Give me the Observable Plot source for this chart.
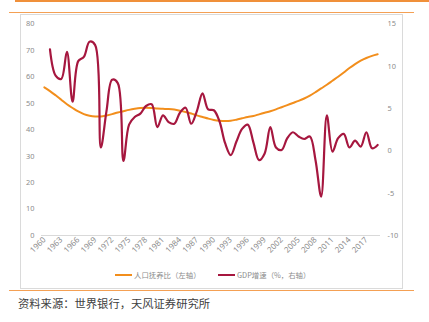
<!DOCTYPE html>
<html><head><meta charset="utf-8">
<script src="https://cdn.jsdelivr.net/npm/d3@7"></script>
<script src="https://cdn.jsdelivr.net/npm/@observablehq/plot@0.6"></script>
<style>
html,body{margin:0;padding:0;background:#fff;}
#wrap{position:relative;width:429px;height:322px;overflow:hidden;font-family:"Noto Sans","Noto Sans CJK SC",sans-serif;}
.topbar{position:absolute;left:15px;top:0;width:414px;height:2.3px;background:#f0903a;}
.hl{position:absolute;left:9px;width:405px;height:1.3px;background:#f4a054;}
.box{position:absolute;left:20px;top:14px;width:381px;height:273px;border:1px solid #dadada;}
#chart{position:absolute;left:0;top:0;}
.sw{position:absolute;height:2.6px;width:17px;}
.lt{position:absolute;font-size:7.4px;line-height:10px;color:#8c8c8c;font-family:"Noto Sans CJK SC",sans-serif;white-space:nowrap;}
#caption{position:absolute;left:18px;top:295px;font-size:11.3px;line-height:16px;color:#404040;font-family:"Noto Sans CJK SC",sans-serif;white-space:nowrap;}
</style></head><body>
<div id="wrap">
  <div class="topbar"></div>
  <div class="hl" style="top:11.7px"></div>
  <div class="box"></div>
  <div id="chart"></div>
  <div class="sw" style="left:115px;top:273.7px;background:#F28E1C"></div>
  <div class="lt" style="left:134px;top:270px">人口抚养比（左轴）</div>
  <div class="sw" style="left:218px;top:273.7px;background:#A6173F"></div>
  <div class="lt" style="left:237px;top:270px">GDP增速（%，右轴）</div>
  <div class="hl" style="top:289.5px"></div>
  <div id="caption">资料来源：世界银行，天风证券研究所</div>
</div>
<script>
const years = [1960,1961,1962,1963,1964,1965,1966,1967,1968,1969,
  1970,1971,1972,1973,1974,1975,1976,1977,1978,1979,
  1980,1981,1982,1983,1984,1985,1986,1987,1988,1989,
  1990,1991,1992,1993,1994,1995,1996,1997,1998,1999,
  2000,2001,2002,2003,2004,2005,2006,2007,2008,2009,
  2010,2011,2012,2013,2014,2015,2016,2017,2018,2019];
// 人口抚养比（左轴）
const dependencyRatio = [56.0,54.6,53.0,51.3,49.6,48.2,46.9,45.9,45.3,45.0,
  45.0,45.4,45.9,46.5,47.0,47.5,47.9,48.2,48.3,48.2,
  48.0,47.9,47.8,47.6,47.2,46.7,46.1,45.4,44.8,44.2,
  43.7,43.4,43.3,43.4,43.8,44.3,44.8,45.2,45.8,46.4,
  47.0,47.7,48.5,49.3,50.1,50.9,51.8,52.9,54.2,55.6,
  57.0,58.5,60.0,61.6,63.3,64.8,66.1,67.1,67.9,68.5];
// GDP增速（%，右轴）
const gdpGrowth = [null,12.0,8.9,8.5,11.7,5.8,10.6,11.1,12.9,12.5,
  0.4,4.7,8.4,8.0,-1.2,3.1,4.0,4.4,5.3,5.5,
  2.8,4.2,3.4,3.2,4.5,5.1,3.2,4.7,6.8,4.9,
  4.8,3.5,0.9,-0.5,1.1,2.6,3.1,1.0,-1.1,-0.3,
  2.8,0.4,0.1,1.5,2.2,1.7,1.4,1.7,-1.1,-5.4,
  4.2,-0.1,1.5,2.0,0.4,1.2,0.5,2.2,0.3,0.7];
const xTicks = [1960,1963,1966,1969,1972,1975,1978,1981,1984,1987,1990,1993,1996,1999,2002,2005,2008,2011,2014,2017];
const leftTicks = [0,10,20,30,40,50,60,70,80];
const rightTicks = [-10,-5,0,5,10,15];

const leftDomain = [0, 80], rightDomain = [-10, 15];
const toLeft = v => leftDomain[0] + (v - rightDomain[0]) * (leftDomain[1] - leftDomain[0]) / (rightDomain[1] - rightDomain[0]);
const toRight = v => rightDomain[0] + (v - leftDomain[0]) * (rightDomain[1] - rightDomain[0]) / (leftDomain[1] - leftDomain[0]);

const rows = years.map((y, i) => ({year: y, dep: dependencyRatio[i], gdp: gdpGrowth[i]}));
const gdpRows = rows.filter(d => d.gdp != null);

const chart = Plot.plot({
  width: 429, height: 270,
  marginLeft: 41, marginRight: 49, marginTop: 23.4, marginBottom: 35,
  style: {fontFamily: "'Noto Sans', sans-serif", fontSize: "7.4px", color: "#8c8c8c", background: "transparent", overflow: "visible"},
  x: {type: "linear", domain: [years[0] - 0.5, years[years.length - 1] + 0.5]},
  y: {domain: leftDomain},
  marks: [
    Plot.ruleY([0], {stroke: "#d9d9d9", strokeWidth: 1}),
    Plot.axisX(xTicks, {tickRotate: -45, tickSize: 0, tickPadding: 3, tickFormat: d => String(d), label: null, fill: "#8c8c8c", fontSize: 8}),
    Plot.axisY(leftTicks, {anchor: "left", tickSize: 0, tickPadding: 7, label: null, fill: "#8c8c8c"}),
    Plot.axisY(rightTicks.map(toLeft), {anchor: "right", tickSize: 0, tickPadding: 7, label: null, fill: "#8c8c8c",
      tickFormat: v => String(Math.round(toRight(v)))}),
    Plot.line(rows, {x: "year", y: "dep", stroke: "#F28E1C", strokeWidth: 2, curve: "catmull-rom"}),
    Plot.line(gdpRows, {x: "year", y: d => toLeft(d.gdp), stroke: "#A6173F", strokeWidth: 2.2, curve: "catmull-rom"})
  ]
});
document.getElementById("chart").appendChild(chart);
</script>
</body></html>
